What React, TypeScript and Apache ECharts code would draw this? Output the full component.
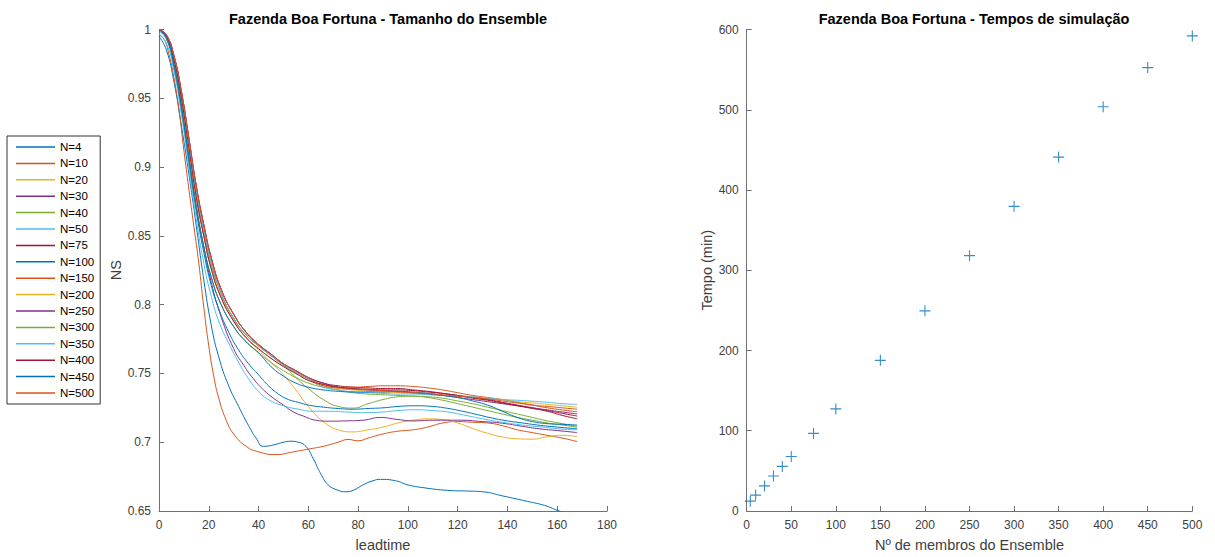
import React, { useEffect, useRef } from 'react';
import * as echarts from 'echarts';

// MATLAB default colour order
const COLORS = ['#0072BD', '#D95319', '#EDB120', '#7E2F8E', '#77AC30', '#4DBEEE', '#A2142F'];

const ENSEMBLE_SIZES = [4, 10, 20, 30, 40, 50, 75, 100, 150, 200, 250, 300, 350, 400, 450, 500];
const SIM_TIMES = [12.3, 19.8, 31.3, 43.6, 55.6, 67.9, 96.7, 127.2, 187.7, 249.4, 318.2, 379.6, 441.0, 503.8, 552.5, 592.0];

// common leadtime grid for most curves
const LEAD_T = [0, 3, 6, 9, 12, 15, 18, 21, 25, 30, 35, 40, 45, 50, 55, 60, 66, 72, 78, 84, 90, 96, 102, 108, 114, 120, 126, 132, 138, 144, 150, 156, 162, 168];

// irregular curves: [leadtime, NS]
const ns4 = [[0, 0.995], [3, 0.985], [6, 0.962], [9, 0.93], [12, 0.895], [15, 0.857], [18, 0.818], [21, 0.785], [24, 0.762], [28, 0.741], [32, 0.726], [36, 0.712], [39, 0.703], [42, 0.697], [46, 0.698], [50, 0.7], [53, 0.7007], [56, 0.7], [59, 0.697], [62, 0.688], [65, 0.677], [68, 0.669], [72, 0.665], [75, 0.664], [78, 0.665], [82, 0.669], [86, 0.672], [89, 0.673], [95, 0.672], [100, 0.669], [106, 0.667], [116, 0.665], [124, 0.6645], [130, 0.664], [138, 0.661], [148, 0.657], [155, 0.654], [160, 0.6505], [164, 0.648], [168, 0.646]];
const ns10 = [[0, 0.996], [2, 0.993], [4, 0.982], [6, 0.965], [8, 0.942], [10, 0.912], [12, 0.884], [14, 0.857], [16, 0.83], [18, 0.798], [20, 0.77], [22, 0.748], [24, 0.732], [27, 0.716], [30, 0.706], [35, 0.697], [40, 0.693], [47, 0.691], [54, 0.693], [60, 0.695], [66, 0.697], [72, 0.7], [76, 0.702], [80, 0.701], [84, 0.703], [90, 0.706], [96, 0.708], [102, 0.709], [108, 0.711], [114, 0.714], [120, 0.715], [126, 0.7145], [132, 0.714], [138, 0.712], [144, 0.709], [150, 0.707], [156, 0.705], [162, 0.703], [168, 0.7005]];
const ns30 = [[0, 1.0], [3, 0.994], [6, 0.975], [9, 0.945], [12, 0.908], [15, 0.872], [18, 0.842], [21, 0.816], [25, 0.791], [30, 0.768], [34, 0.756], [38, 0.746], [42, 0.738], [46, 0.732], [50, 0.727], [54, 0.722], [58, 0.719], [63, 0.716], [68, 0.7153], [75, 0.7155], [82, 0.716], [89, 0.718], [96, 0.7165], [102, 0.7155], [110, 0.716], [120, 0.716], [130, 0.715], [138, 0.7138], [146, 0.7115], [154, 0.7095], [160, 0.7085], [168, 0.707]];
const ns50 = [[0, 0.997], [3, 0.99], [6, 0.97], [9, 0.938], [12, 0.9], [15, 0.862], [18, 0.83], [21, 0.806], [24, 0.788], [28, 0.772], [32, 0.758], [36, 0.746], [40, 0.737], [44, 0.731], [50, 0.7265], [56, 0.724], [62, 0.7225], [68, 0.7225], [75, 0.722], [82, 0.7215], [90, 0.722], [96, 0.723], [103, 0.7236], [110, 0.723], [116, 0.722], [123, 0.7196], [130, 0.717], [138, 0.7145], [146, 0.7125], [154, 0.711], [162, 0.7095], [168, 0.709]];
const ns100 = [[0, 0.999], [3, 0.993], [6, 0.973], [9, 0.942], [12, 0.905], [15, 0.868], [18, 0.838], [21, 0.814], [24, 0.797], [28, 0.78], [32, 0.767], [36, 0.757], [40, 0.749], [44, 0.741], [48, 0.735], [52, 0.731], [56, 0.729], [60, 0.727], [66, 0.7255], [72, 0.7245], [78, 0.724], [84, 0.7245], [90, 0.725], [96, 0.726], [103, 0.7265], [110, 0.726], [116, 0.7246], [122, 0.7225], [128, 0.72], [134, 0.7175], [140, 0.7155], [146, 0.714], [152, 0.7125], [160, 0.711], [168, 0.7098]];

// curves on the LEAD_T grid
const ns20 = [1.0, 0.995, 0.978, 0.95, 0.914, 0.878, 0.85, 0.826, 0.805, 0.788, 0.776, 0.767, 0.758, 0.749, 0.738, 0.726, 0.715, 0.709, 0.7075, 0.709, 0.711, 0.714, 0.716, 0.717, 0.7165, 0.714, 0.71, 0.7065, 0.7038, 0.7025, 0.7022, 0.704, 0.705, 0.704];
const ns40 = [1.0, 0.995, 0.979, 0.952, 0.917, 0.882, 0.854, 0.83, 0.808, 0.79, 0.778, 0.77, 0.763, 0.756, 0.747, 0.739, 0.731, 0.726, 0.7248, 0.728, 0.731, 0.733, 0.7335, 0.7325, 0.7305, 0.728, 0.7255, 0.723, 0.7205, 0.718, 0.716, 0.714, 0.7125, 0.711];
const ns75 = [1.0, 0.996, 0.981, 0.955, 0.921, 0.886, 0.858, 0.834, 0.811, 0.793, 0.78, 0.771, 0.764, 0.757, 0.752, 0.747, 0.743, 0.741, 0.74, 0.7395, 0.739, 0.739, 0.738, 0.737, 0.7355, 0.734, 0.7325, 0.731, 0.729, 0.727, 0.725, 0.723, 0.721, 0.719];
const ns150 = [1.0, 0.995, 0.979, 0.952, 0.917, 0.882, 0.854, 0.83, 0.808, 0.79, 0.778, 0.77, 0.763, 0.756, 0.751, 0.746, 0.742, 0.74, 0.74, 0.7405, 0.741, 0.741, 0.7405, 0.7395, 0.738, 0.736, 0.734, 0.7325, 0.731, 0.729, 0.727, 0.725, 0.7235, 0.722];
const ns200 = [1.0, 0.995, 0.978, 0.95, 0.914, 0.878, 0.85, 0.826, 0.805, 0.788, 0.776, 0.768, 0.761, 0.755, 0.75, 0.745, 0.741, 0.739, 0.738, 0.737, 0.7365, 0.736, 0.7355, 0.735, 0.734, 0.7335, 0.733, 0.732, 0.731, 0.7295, 0.7285, 0.7275, 0.7265, 0.7255];
const ns250 = [1.0, 0.996, 0.981, 0.955, 0.921, 0.886, 0.858, 0.834, 0.811, 0.793, 0.78, 0.771, 0.764, 0.757, 0.752, 0.747, 0.743, 0.74, 0.739, 0.738, 0.7375, 0.737, 0.736, 0.735, 0.734, 0.7325, 0.731, 0.7295, 0.728, 0.7265, 0.725, 0.7235, 0.722, 0.7205];
const ns300 = [1.0, 0.994, 0.975, 0.944, 0.906, 0.87, 0.842, 0.82, 0.8, 0.784, 0.773, 0.765, 0.758, 0.752, 0.747, 0.743, 0.74, 0.738, 0.736, 0.735, 0.7345, 0.734, 0.7335, 0.733, 0.732, 0.73, 0.728, 0.7255, 0.723, 0.7205, 0.718, 0.7155, 0.7135, 0.7115];
const ns350 = [1.0, 0.995, 0.979, 0.952, 0.917, 0.882, 0.854, 0.83, 0.808, 0.79, 0.778, 0.77, 0.763, 0.756, 0.751, 0.746, 0.74, 0.738, 0.7365, 0.736, 0.7355, 0.735, 0.735, 0.7345, 0.734, 0.7335, 0.733, 0.732, 0.731, 0.7305, 0.7298, 0.729, 0.728, 0.7275];
const ns400 = [1.0, 0.995, 0.978, 0.95, 0.914, 0.878, 0.85, 0.826, 0.805, 0.788, 0.776, 0.768, 0.761, 0.755, 0.75, 0.745, 0.742, 0.74, 0.739, 0.7385, 0.738, 0.738, 0.7375, 0.7365, 0.7355, 0.734, 0.732, 0.7305, 0.7285, 0.7265, 0.7245, 0.7225, 0.7195, 0.717];
const ns450 = [1.0, 0.994, 0.975, 0.944, 0.906, 0.87, 0.842, 0.82, 0.8, 0.784, 0.773, 0.765, 0.755, 0.748, 0.743, 0.74, 0.738, 0.737, 0.7365, 0.7365, 0.7365, 0.737, 0.7365, 0.7355, 0.734, 0.7325, 0.73, 0.727, 0.7225, 0.718, 0.715, 0.7135, 0.713, 0.7125];
const ns500 = [1.0, 0.996, 0.981, 0.955, 0.921, 0.886, 0.858, 0.834, 0.811, 0.793, 0.78, 0.771, 0.764, 0.757, 0.752, 0.747, 0.741, 0.7395, 0.7385, 0.738, 0.7375, 0.7365, 0.736, 0.7355, 0.7345, 0.7335, 0.7325, 0.7315, 0.73, 0.7285, 0.727, 0.726, 0.725, 0.724];

const onGrid = (vals: number[]) => vals.map((v, i) => [LEAD_T[i], v]);

const CURVES: number[][][] = [
  ns4, ns10, onGrid(ns20), ns30, onGrid(ns40), ns50, onGrid(ns75), ns100,
  onGrid(ns150), onGrid(ns200), onGrid(ns250), onGrid(ns300), onGrid(ns350),
  onGrid(ns400), onGrid(ns450), onGrid(ns500),
];

const FONT = '"Liberation Sans", Arial, Helvetica, sans-serif';
const AXIS_COLOR = '#707070';
const LABEL_COLOR = '#404040';
const CROSS = 'path://M4.5,0 H5.5 V4.5 H10 V5.5 H5.5 V10 H4.5 V5.5 H0 V4.5 H4.5 Z';

function axisCommon() {
  return {
    axisLine: { show: true, lineStyle: { color: AXIS_COLOR, width: 1 } },
    axisTick: { show: true, inside: true, length: 5, lineStyle: { color: AXIS_COLOR } },
    splitLine: { show: false },
    axisLabel: { color: LABEL_COLOR, fontSize: 12, fontFamily: FONT },
    nameTextStyle: { color: LABEL_COLOR, fontSize: 14.5, fontFamily: FONT },
  };
}

export default function App() {
  const ref = useRef<HTMLDivElement>(null);
  useEffect(() => {
    const chart = echarts.init(ref.current!, null, { renderer: 'svg' });
    const lineSeries = ENSEMBLE_SIZES.map((n, i) => ({
      name: 'N=' + n,
      type: 'line',
      xAxisIndex: 0,
      yAxisIndex: 0,
      data: CURVES[i],
      showSymbol: false,
      symbol: 'none',
      smooth: 0.5,
      clip: true,
      lineStyle: { width: 1, color: COLORS[i % COLORS.length] },
      itemStyle: { color: COLORS[i % COLORS.length] },
    }));
    const option: any = {
      animation: false,
      backgroundColor: '#ffffff',
      title: [
        {
          text: 'Fazenda Boa Fortuna - Tamanho do Ensemble',
          left: 383, top: 6, textAlign: 'center',
          textStyle: { fontSize: 14.5, fontWeight: 'bold', color: '#000', fontFamily: FONT },
        },
        {
          text: 'Fazenda Boa Fortuna - Tempos de simulação',
          left: 969, top: 6, textAlign: 'center',
          textStyle: { fontSize: 14.5, fontWeight: 'bold', color: '#000', fontFamily: FONT },
        },
      ],
      legend: {
        orient: 'vertical',
        left: 7, top: 136,
        padding: [4, 6, 4, 9],
        borderColor: '#333',
        borderWidth: 1,
        icon: 'rect',
        itemWidth: 39,
        itemHeight: 1.5,
        itemGap: 2.4,
        textStyle: { fontSize: 11.5, color: '#000', fontFamily: FONT, lineHeight: 14 },
        data: ENSEMBLE_SIZES.map((n) => 'N=' + n),
        selectedMode: false,
      },
      grid: [
        { left: 159, top: 29.5, width: 448, height: 483.2, containLabel: false },
        { left: 746.7, top: 29.5, width: 445.6, height: 483.2, containLabel: false },
      ],
      xAxis: [
        {
          ...axisCommon(), gridIndex: 0, type: 'value', min: 0, max: 180, interval: 20,
          name: 'leadtime', nameLocation: 'middle', nameGap: 26,
        },
        {
          ...axisCommon(), gridIndex: 1, type: 'value', min: 0, max: 500, interval: 50,
          name: 'Nº de membros do Ensemble', nameLocation: 'middle', nameGap: 26,
        },
      ],
      yAxis: [
        {
          ...axisCommon(), gridIndex: 0, type: 'value', min: 0.65, max: 1, interval: 0.05,
          name: 'NS', nameLocation: 'middle', nameGap: 36,
          axisLabel: {
            color: LABEL_COLOR, fontSize: 12, fontFamily: FONT,
            formatter: (v: number) => String(parseFloat(v.toFixed(2))),
          },
        },
        {
          ...axisCommon(), gridIndex: 1, type: 'value', min: 0, max: 600, interval: 100,
          name: 'Tempo (min)', nameLocation: 'middle', nameGap: 30,
        },
      ],
      series: [
        ...lineSeries,
        {
          name: 'tempo',
          type: 'scatter',
          xAxisIndex: 1,
          yAxisIndex: 1,
          data: ENSEMBLE_SIZES.map((n, i) => [n, SIM_TIMES[i]]),
          symbol: CROSS,
          symbolSize: 11,
          itemStyle: { color: '#0072BD' },
          clip: false,
        },
      ],
    };
    chart.setOption(option);
    return () => chart.dispose();
  }, []);
  return (
    <div
      ref={ref}
      style={{ position: 'fixed', left: 0, top: 0, width: 1215, height: 557, background: '#fff' }}
    />
  );
}
